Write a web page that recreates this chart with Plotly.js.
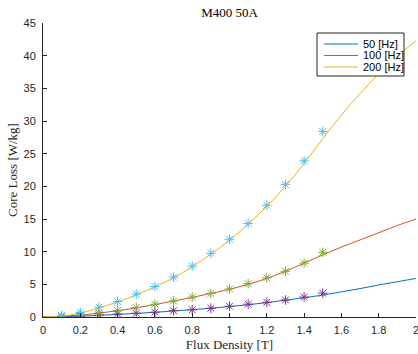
<!DOCTYPE html>
<html>
<head>
<meta charset="utf-8">
<script src="https://cdn.plot.ly/plotly-3.0.1.min.js"></script>
<style>html,body{margin:0;padding:0;background:#fff;}#chart{width:418px;height:354px;}</style>
</head>
<body>
<div id="chart"></div>
<script>
// Fitted curves (0 to 2 T)
const fitB = [0,0.1,0.2,0.3,0.4,0.5,0.6,0.7,0.8,0.9,1.0,1.1,1.2,1.3,1.4,1.5,1.6,1.7,1.8,1.9,2.0];
const fit50 = [0,0.04,0.12,0.25,0.4,0.55,0.72,0.92,1.12,1.35,1.6,1.88,2.2,2.58,2.95,3.35,3.85,4.35,4.9,5.4,5.9];
const fit100 = [0,0.1,0.3,0.6,0.95,1.4,1.9,2.45,3.0,3.6,4.25,5.0,5.9,7.0,8.25,9.5,10.7,11.8,12.9,14.0,15.0];
const fit200 = [0,0.15,0.6,1.4,2.3,3.4,4.6,6.0,7.7,9.6,11.75,14.2,16.95,20.0,23.5,27.3,30.9,34.2,37.2,39.9,42.3];
// Measured points
const measB = [0.1,0.2,0.3,0.4,0.5,0.6,0.7,0.8,0.9,1.0,1.1,1.2,1.3,1.4,1.5];
const meas50 = [0.05,0.12,0.3,0.46,0.58,0.74,0.97,1.1,1.33,1.65,1.97,2.25,2.6,3.05,3.65];
const meas100 = [0.1,0.3,0.6,1.0,1.45,1.95,2.45,3.05,3.6,4.3,5.1,6.0,7.0,8.25,9.9];
const meas200 = [0.2,0.7,1.5,2.35,3.5,4.65,6.1,7.8,9.75,11.9,14.3,17.1,20.3,23.9,28.4];
const seriesNames = ['50 [Hz]','100 [Hz]','200 [Hz]'];

const lineColors = ['#0072BD','#D95319','#EDB120'];
const markColors = ['#7E2F8E','#77AC30','#4DBEEE'];
const fits = [fit50, fit100, fit200];
const meas = [meas50, meas100, meas200];

const traces = [];
for (let i = 0; i < 3; i++) {
  traces.push({
    x: fitB, y: fits[i], type: 'scatter', mode: 'lines', name: seriesNames[i], showlegend: false,
    line: {color: lineColors[i], width: 1, shape: 'spline', smoothing: 1}
  });
}
for (let i = 0; i < 3; i++) {
  traces.push({
    x: measB, y: meas[i], type: 'scatter', mode: 'markers', showlegend: false,
    marker: {symbol: 'asterisk-open', size: 8, color: markColors[i], line: {color: markColors[i], width: 1}}
  });
}

// Plot-area geometry (pixels) for placing the legend box
const W = 418, H = 354, M = {l: 43, r: 2, t: 23, b: 37};
const pw = W - M.l - M.r, ph = H - M.t - M.b;
const px = x => (x - M.l) / pw;
const py = y => (H - M.b - y) / ph;

const legFont = {family: 'Liberation Sans, Arial, sans-serif', size: 11, color: '#000'};
const shapes = [{
  type: 'rect', xref: 'paper', yref: 'paper', layer: 'above',
  x0: px(317), x1: px(404), y0: py(76), y1: py(33),
  fillcolor: '#fff', line: {color: '#262626', width: 1}
}];
const annotations = [];
const rowY = [44, 55.5, 67];
for (let i = 0; i < 3; i++) {
  shapes.push({type: 'line', xref: 'paper', yref: 'paper', layer: 'above',
    x0: px(324), x1: px(358), y0: py(rowY[i]), y1: py(rowY[i]),
    line: {color: lineColors[i], width: 1}});
  annotations.push({xref: 'paper', yref: 'paper', x: px(361), y: py(rowY[i]),
    xanchor: 'left', yanchor: 'middle', showarrow: false, text: seriesNames[i], font: legFont});
}

const tickFont = {family: 'Liberation Sans, Arial, sans-serif', size: 11, color: '#262626'};
const serif = 'Liberation Serif, Times New Roman, serif';

const layout = {
  width: W, height: H,
  margin: M,
  paper_bgcolor: '#fff', plot_bgcolor: '#fff',
  showlegend: false,
  shapes: shapes, annotations: annotations,
  title: {text: 'M400 50A', font: {family: serif, size: 13, color: '#000'}, x: 0.5, xref: 'paper', y: 0.965, yref: 'container', yanchor: 'middle'},
  xaxis: {
    range: [0, 2], dtick: 0.2, tick0: 0, showgrid: false, zeroline: false,
    showline: true, linecolor: '#262626', linewidth: 1,
    ticks: 'inside', ticklen: 4, tickcolor: '#262626', tickwidth: 1,
    tickfont: tickFont, ticklabelstandoff: 3, ticklabeloverflow: 'allow',
    title: {text: 'Flux Density [T]', font: {family: serif, size: 13, color: '#262626'}, standoff: 4}
  },
  yaxis: {
    range: [0, 45], dtick: 5, tick0: 0, showgrid: false, zeroline: false,
    showline: true, linecolor: '#262626', linewidth: 1,
    ticks: 'inside', ticklen: 4, tickcolor: '#262626', tickwidth: 1,
    tickfont: tickFont, ticklabelstandoff: 4, ticklabeloverflow: 'allow',
    title: {text: 'Core Loss [W/kg]', font: {family: serif, size: 13, color: '#262626'}, standoff: 2}
  }
};

Plotly.newPlot('chart', traces, layout, {displayModeBar: false, staticPlot: true});
</script>
</body>
</html>
